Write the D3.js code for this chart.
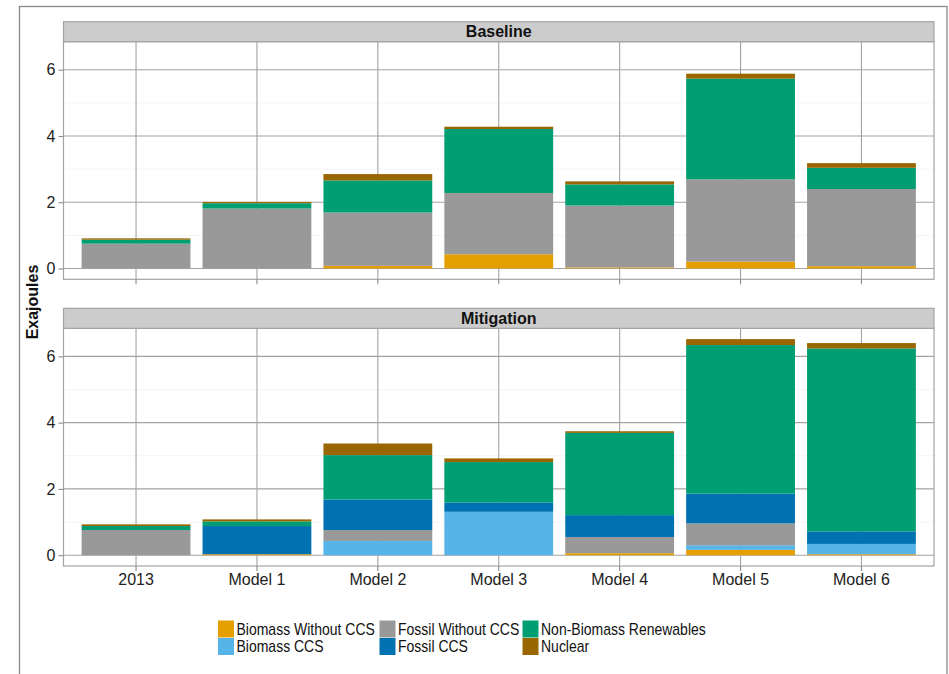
<!DOCTYPE html>
<html>
<head>
<meta charset="utf-8">
<script src="https://cdn.jsdelivr.net/npm/d3@7"></script>
<style>
  html, body { margin: 0; padding: 0; background: #fff; }
  svg { display: block; font-family: "Liberation Sans", Arial, sans-serif; }
</style>
</head>
<body>
<svg id="chart" width="949" height="674"></svg>
<script>
// Categories (x axis) and facet panels
const categories = ["2013", "Model 1", "Model 2", "Model 3", "Model 4", "Model 5", "Model 6"];
const panels = ["Baseline", "Mitigation"];

// Energy sources, in stacking order (bottom to top)
const sources = ["Biomass Without CCS", "Biomass CCS", "Fossil Without CCS", "Fossil CCS", "Non-Biomass Renewables", "Nuclear"];
const sourceColors = ["#E69F00", "#56B4E9", "#999999", "#0072B2", "#009E73", "#996600"];

// Baseline values (EJ) per source, one value per category
const baselineBiomass      = [0.00, 0.00, 0.08, 0.43, 0.03, 0.21, 0.07];
const baselineBiomassCCS   = [0.00, 0.00, 0.00, 0.00, 0.00, 0.00, 0.00];
const baselineFossil       = [0.75, 1.81, 1.61, 1.85, 1.87, 2.48, 2.33];
const baselineFossilCCS    = [0.00, 0.00, 0.00, 0.00, 0.00, 0.00, 0.00];
const baselineRenewables   = [0.12, 0.16, 0.97, 1.93, 0.64, 3.04, 0.64];
const baselineNuclear      = [0.04, 0.04, 0.19, 0.07, 0.09, 0.15, 0.14];

// Mitigation values (EJ)
const mitigationBiomass    = [0.00, 0.03, 0.00, 0.00, 0.06, 0.16, 0.03];
const mitigationBiomassCCS = [0.00, 0.00, 0.43, 1.31, 0.00, 0.14, 0.31];
const mitigationFossil     = [0.76, 0.00, 0.33, 0.00, 0.49, 0.66, 0.00];
const mitigationFossilCCS  = [0.00, 0.85, 0.92, 0.28, 0.66, 0.90, 0.38];
const mitigationRenewables = [0.12, 0.14, 1.34, 1.22, 2.48, 4.48, 5.52];
const mitigationNuclear    = [0.05, 0.06, 0.35, 0.11, 0.05, 0.18, 0.16];

const yTicks = [0, 2, 4, 6];
const yMinorTicks = [1, 3, 5];

const panelSeries = {
  "Baseline":   [baselineBiomass, baselineBiomassCCS, baselineFossil, baselineFossilCCS, baselineRenewables, baselineNuclear],
  "Mitigation": [mitigationBiomass, mitigationBiomassCCS, mitigationFossil, mitigationFossilCCS, mitigationRenewables, mitigationNuclear]
};

// Build row tables for d3.stack
function rowsFor(panel) {
  return categories.map((c, i) => {
    const row = { category: c };
    sources.forEach((s, k) => { row[s] = panelSeries[panel][k][i]; });
    return row;
  });
}

const svg = d3.select("#chart");
const color = d3.scaleOrdinal().domain(sources).range(sourceColors);
const stack = d3.stack().keys(sources);

// Layout
const plotLeft = 63.5, plotRight = 934;
const panelBoxes = [
  { stripTop: 21.7, top: 41.7, bottom: 279.3 },
  { stripTop: 308.3, top: 328.3, bottom: 566 }
];
const gridColor = "#a3a3a3";

// Shared y range across facets, with 5% expansion
const stacked = {};
panels.forEach(p => { stacked[p] = stack(rowsFor(p)); });
const yMax = d3.max(panels, p => d3.max(stacked[p][stacked[p].length - 1], d => d[1]));
const yDomain = [-0.05 * yMax, 1.05 * yMax];

const x = d3.scaleBand()
  .domain(categories)
  .range([plotLeft, plotRight])
  .paddingInner(0.1)
  .paddingOuter(0.15);

// Outer frame
svg.append("rect")
  .attr("x", 19.5).attr("y", 6.5)
  .attr("width", 927.5).attr("height", 700)
  .attr("fill", "none").attr("stroke", "#8a8a8a").attr("stroke-width", 1.3);

panels.forEach((panel, pi) => {
  const box = panelBoxes[pi];
  const y = d3.scaleLinear().domain(yDomain).range([box.bottom, box.top]);
  const g = svg.append("g");

  // Panel background
  g.append("rect")
    .attr("x", plotLeft).attr("y", box.top)
    .attr("width", plotRight - plotLeft).attr("height", box.bottom - box.top)
    .attr("fill", "#fff");

  // Minor gridlines
  g.selectAll("line.minor").data(yMinorTicks).join("line")
    .attr("x1", plotLeft).attr("x2", plotRight)
    .attr("y1", d => y(d)).attr("y2", d => y(d))
    .attr("stroke", "#f3f3f3").attr("stroke-width", 0.8);

  // Major gridlines
  g.selectAll("line.hmajor").data(yTicks).join("line")
    .attr("x1", plotLeft).attr("x2", plotRight)
    .attr("y1", d => y(d)).attr("y2", d => y(d))
    .attr("stroke", gridColor).attr("stroke-width", 1.1);
  g.selectAll("line.vmajor").data(categories).join("line")
    .attr("x1", d => x(d) + x.bandwidth() / 2).attr("x2", d => x(d) + x.bandwidth() / 2)
    .attr("y1", box.top).attr("y2", box.bottom)
    .attr("stroke", gridColor).attr("stroke-width", 1.1);

  // Stacked bars
  g.selectAll("g.layer").data(stacked[panel]).join("g")
    .attr("fill", d => color(d.key))
    .selectAll("rect").data(d => d.filter(v => v[1] - v[0] > 0)).join("rect")
    .attr("x", d => x(d.data.category))
    .attr("width", x.bandwidth())
    .attr("y", d => y(d[1]))
    .attr("height", d => y(d[0]) - y(d[1]));

  // Panel border
  g.append("rect")
    .attr("x", plotLeft).attr("y", box.top)
    .attr("width", plotRight - plotLeft).attr("height", box.bottom - box.top)
    .attr("fill", "none").attr("stroke", gridColor).attr("stroke-width", 1.2);

  // Facet strip
  g.append("rect")
    .attr("x", plotLeft).attr("y", box.stripTop)
    .attr("width", plotRight - plotLeft).attr("height", box.top - box.stripTop)
    .attr("fill", "#cccccc").attr("stroke", gridColor).attr("stroke-width", 1.2);
  g.append("text")
    .attr("x", (plotLeft + plotRight) / 2)
    .attr("y", (box.stripTop + box.top) / 2)
    .attr("dy", "0.36em")
    .attr("text-anchor", "middle")
    .attr("font-size", "16px").attr("font-weight", "bold").attr("fill", "#111")
    .text(panel);

  // Y axis
  const yAxis = g.append("g")
    .attr("transform", `translate(${plotLeft},0)`)
    .call(d3.axisLeft(y).tickValues(yTicks).tickSize(5).tickPadding(3).tickFormat(d3.format("d")));
  yAxis.select(".domain").remove();
  yAxis.selectAll(".tick line").attr("stroke", "#8a8a8a").attr("stroke-width", 1.1);
  yAxis.selectAll(".tick text")
    .attr("font-size", "16px").attr("fill", "#222")
    .attr("font-family", "'Liberation Sans', Arial, sans-serif");

  // X axis (ticks on both panels, labels on the bottom one)
  const xAxis = g.append("g")
    .attr("transform", `translate(0,${box.bottom})`)
    .call(d3.axisBottom(x).tickSize(5).tickPadding(3));
  xAxis.select(".domain").remove();
  xAxis.selectAll(".tick line").attr("stroke", "#8a8a8a").attr("stroke-width", 1.1);
  xAxis.selectAll(".tick text")
    .attr("font-size", "16px").attr("fill", "#222")
    .attr("font-family", "'Liberation Sans', Arial, sans-serif")
    .style("display", pi === panels.length - 1 ? null : "none");
});

// Y axis title
svg.append("text")
  .attr("transform", "translate(37.5,302) rotate(-90)")
  .attr("text-anchor", "middle")
  .attr("font-size", "16px").attr("font-weight", "bold").attr("fill", "#111")
  .text("Exajoules");

// Legend: three columns, two rows, filled column by column
const legendCols = [218, 379.5, 522.5];
const legendRows = [620.5, 638];
const legend = svg.append("g");
sources.forEach((s, i) => {
  const col = Math.floor(i / 2), row = i % 2;
  const lx = legendCols[col], ly = legendRows[row];
  legend.append("rect")
    .attr("x", lx).attr("y", ly)
    .attr("width", 16).attr("height", 17)
    .attr("fill", color(s));
  // Tall, narrow label glyphs
  legend.append("text")
    .attr("transform", `translate(${lx + 18.5},${ly + 8.5}) scale(0.875,1)`)
    .attr("dy", "0.36em")
    .attr("font-size", "16px").attr("fill", "#111")
    .text(s);
});
</script>
</body>
</html>
